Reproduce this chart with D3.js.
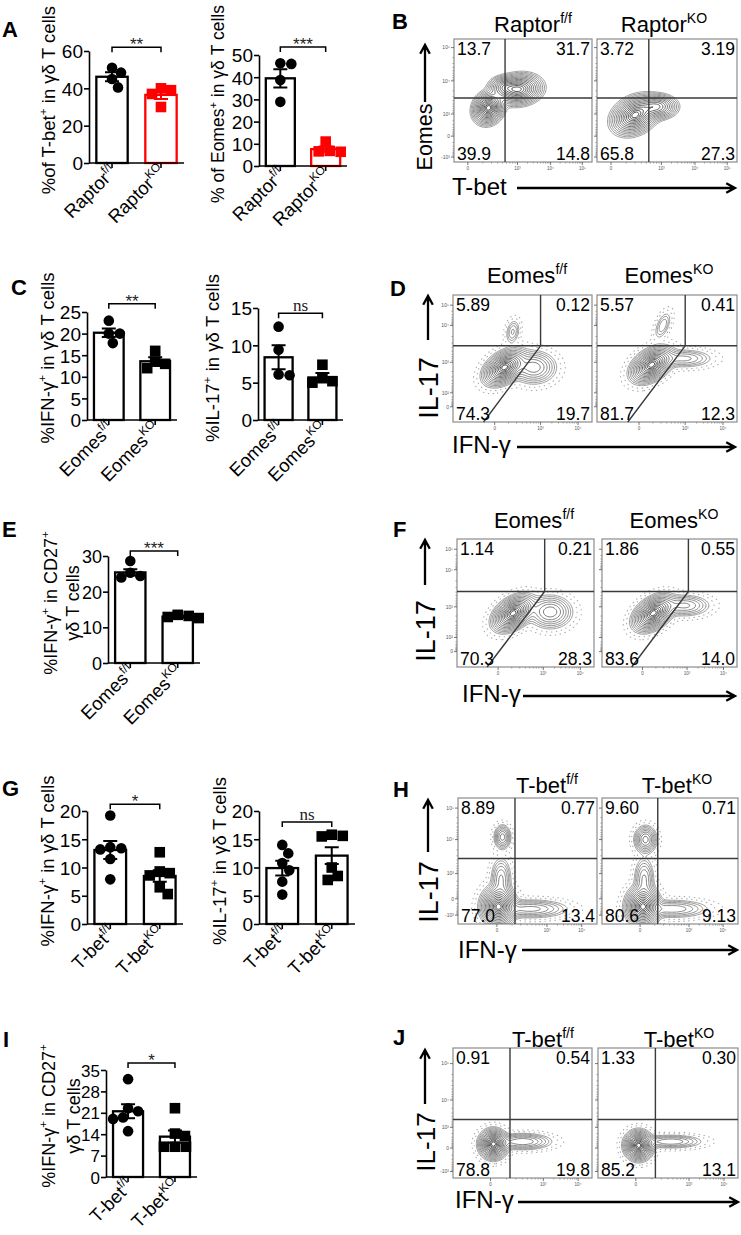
<!DOCTYPE html>
<html lang="en">
<head>
<meta charset="UTF-8">
<title>Raptor / Eomes / T-bet in γδ T cells</title>
<script src="https://d3js.org/d3.v7.min.js"></script>
<style>
  body { margin: 0; background: #fff; }
  svg { display: block; font-family: "Liberation Sans", Arial, sans-serif; }
</style>
</head>
<body>
<svg id="fig" width="741" height="1235"></svg>
<script>
// ---- categories (text after ^ is superscript) ----
const raptorCats = ["Raptor^f/f", "Raptor^KO"];
const eomesCats = ["Eomes^f/f", "Eomes^KO"];
const tbetCats = ["T-bet^f/f", "T-bet^KO"];

// ---- bar chart values: mean, SEM, individual mice ----
const tbetMean = [46.2, 36.5], tbetSem = [2.4, 2.2];
const tbetPts = [[51, 48.4, 45, 40.5], [40, 39, 37, 30]];
const eomesMean = [39.5, 7.6], eomesSem = [4.1, 1.2];
const eomesPts = [[46, 46.3, 38.7, 28.9], [11, 6.6, 6.4, 6.8]];

const eIfngMean = [20.2, 13.6], eIfngSem = [1.0, 0.9];
const eIfngPts = [[23, 20, 20, 17.8], [16, 13.5, 13, 12]];
const eIl17Mean = [8.4, 5.7], eIl17Sem = [1.6, 0.6];
const eIl17Pts = [[12.5, 9.4, 6.1, 6.0], [7.4, 5.6, 5.2, 5.0]];

const eCd27Mean = [25.4, 13.0], eCd27Sem = [0.9, 0.3];
const eCd27Pts = [[28.6, 25.3, 24.4, 24], [13.5, 13.2, 12.9, 12.6]];

const tIfngMean = [13.1, 8.5], tIfngSem = [1.6, 1.0];
const tIfngPts = [[19.2, 13.6, 13.4, 13.2, 11.5, 7.9], [12.7, 9.3, 9.0, 8.6, 6.5, 5.3]];
const tIl17Mean = [9.9, 12.1], tIl17Sem = [1.3, 1.5];
const tIl17Pts = [[14, 12.5, 10.8, 9.5, 7.5, 5.2], [15.6, 15.5, 15.8, 10, 8.5, 7.8]];

const tCd27Mean = [21.5, 13.2], tCd27Sem = [2.3, 2.0];
const tCd27Pts = [[32, 22.5, 21.5, 19.5, 19, 15], [22.5, 13.4, 14.2, 9.9, 9.9, 9.9]];

// ---- flow plots: quadrant percentages [top-left, top-right, bottom-left, bottom-right] ----
const bNums = [["13.7", "31.7", "39.9", "14.8"], ["3.72", "3.19", "65.8", "27.3"]];
const dNums = [["5.89", "0.12", "74.3", "19.7"], ["5.57", "0.41", "81.7", "12.3"]];
const fNums = [["1.14", "0.21", "70.3", "28.3"], ["1.86", "0.55", "83.6", "14.0"]];
const hNums = [["8.89", "0.77", "77.0", "13.4"], ["9.60", "0.71", "80.6", "9.13"]];
const jNums = [["0.91", "0.54", "78.8", "19.8"], ["1.33", "0.30", "85.2", "13.1"]];

// cell populations in channel units 0-100: [x, y, spread along axis, spread across, axis angle, weight]
const bBlobs = [
  [[25, 44, 6, 4.8, 70, 1.0], [47, 59, 7.5, 5.5, 10, 0.9], [36, 61, 5, 4, 0, 0.4]],
  [[27, 38, 8, 6, 40, 1.0], [43, 45, 6.5, 4.5, 0, 0.6]]
];
const dBlobs = [
  [[37, 43, 7.5, 4.8, 40, 1.0], [58, 43, 7.5, 6, 0, 0.3], [43, 71, 5, 2.5, 80, 0.1]],
  [[39, 45, 7.5, 4.8, 40, 1.0], [62, 50, 10, 3.5, 0, 0.15], [47, 76, 6, 2.5, 70, 0.09]]
];
const fBlobs = [
  [[41, 42, 7.5, 4.8, 40, 1.0], [68, 43, 7.5, 6, 0, 0.3]],
  [[38, 42, 7.5, 4.8, 40, 1.0], [61, 48, 9, 4, 0, 0.2]]
];
const hBlobs = [
  [[29, 14, 7, 5.5, 90, 1.0], [31, 36, 8, 3.5, 90, 0.2], [52, 12, 13, 3.5, 0, 0.22], [32, 69, 4.5, 2.8, 90, 0.3]],
  [[30, 14, 7, 5.5, 90, 1.0], [31, 36, 8, 3.5, 90, 0.2], [52, 12, 13, 3.5, 0, 0.18], [32, 67, 5, 3.8, 90, 0.38]]
];
const jBlobs = [
  [[29, 26, 5, 4.5, 90, 1.0], [50, 28, 10, 3, 0, 0.25]],
  [[29, 25, 5, 4.5, 90, 1.0], [52, 28, 11, 2.5, 0, 0.18]]
];

// axis decoration labels of the cytometer plots
const bTicksY = [["10⁵", .07], ["10⁴", .34], ["10³", .61], ["0", .79], ["-10³", .96]];
const bTicksX = [["0", .10], ["10³", .46], ["10⁴", .70], ["10⁵", .93]];
const dTicksY = [["10⁵", .08], ["10⁴", .24], ["10³", .53], ["10²", .77], ["0", .88]];
const dTicksX = [["0", .30], ["10³", .63], ["10⁴", .90]];
const hTicksY = [["10⁵", .08], ["10⁴", .33], ["10³", .60], ["0", .80], ["-10³", .93]];
const hTicksX = [["0", .28], ["10³", .64], ["10⁴", .89]];
const jTicksY = [["10⁵", .12], ["10⁴", .40], ["10³", .61], ["0", .77], ["-10³", .95]];
const jTicksX = [["0", .27], ["10³", .65], ["10⁴", .90]];

// contour rings evenly spaced in radius (in units of spread)
const levels = d3.range(2.7, 0.3, -0.17).map(r => Math.exp(-0.5 * r * r));

const svg = d3.select("#fig");

// text with ^superscript^ parts
function rich(t, str, fs) {
  let shift = 0;
  str.split("^").forEach((p, i) => {
    const sup = i % 2 === 1;
    const target = sup ? -fs * 0.42 : 0;
    if (!p) return;
    t.append("tspan").attr("dy", target - shift).attr("font-size", sup ? fs * 0.64 : fs).text(p);
    shift = target;
  });
  return t;
}

function arrow(x1, y1, x2, y2) {
  const a = Math.atan2(y2 - y1, x2 - x1), L = 10, s = 0.5;
  svg.append("path")
    .attr("d", `M${x1},${y1}L${x2},${y2}M${x2 - L * Math.cos(a - s)},${y2 - L * Math.sin(a - s)}L${x2},${y2}L${x2 - L * Math.cos(a + s)},${y2 - L * Math.sin(a + s)}`)
    .attr("fill", "none").attr("stroke", "#000").attr("stroke-width", 2.3);
}

function letter(ch, x, y) {
  svg.append("text").attr("x", x).attr("y", y).attr("font-size", 22).attr("font-weight", "bold").text(ch);
}

// simple beeswarm so dots of one group do not sit on top of each other
function swarm(vals, y, r) {
  const order = d3.range(vals.length).sort((a, b) => vals[b] - vals[a]);
  const placed = [], off = [];
  order.forEach(i => {
    const yy = y(vals[i]);
    for (let k = 0; k < 80; k++) {
      const dx = (k % 2 ? 1 : -1) * Math.ceil(k / 2);
      if (placed.every(p => Math.hypot(p[0] - dx, p[1] - yy) >= 2 * r * 0.95)) {
        off[i] = dx; placed.push([dx, yy]); break;
      }
    }
  });
  return off;
}

function barChart(c) {
  const g = svg.append("g");
  const x = d3.scaleBand().domain(c.cats).range([c.x0, c.x1]).paddingInner(0.36).paddingOuter(0.15);
  const y = d3.scaleLinear().domain([0, c.max]).range([c.y0, c.y1]);
  const bw = x.bandwidth();
  const r = 5.3;

  g.selectAll("rect.bar").data(c.cats).join("rect")
    .attr("x", d => x(d)).attr("y", (d, i) => y(c.mean[i]))
    .attr("width", bw).attr("height", (d, i) => y(0) - y(c.mean[i]))
    .attr("fill", "#fff").attr("stroke", (d, i) => c.colors[i]).attr("stroke-width", 2.3);

  c.cats.forEach((cat, i) => {
    const cx = x(cat) + bw / 2;
    const off = swarm(c.pts[i], y, r);
    c.pts[i].forEach((v, j) => {
      if (i === 0) {
        g.append("circle").attr("cx", cx + off[j]).attr("cy", y(v)).attr("r", r).attr("fill", c.colors[i]);
      } else {
        g.append("rect").attr("x", cx + off[j] - r).attr("y", y(v) - r)
          .attr("width", 2 * r).attr("height", 2 * r).attr("fill", c.colors[i]);
      }
    });
    const lo = y(c.mean[i] - c.sem[i]), hi = y(c.mean[i] + c.sem[i]);
    g.append("path")
      .attr("d", `M${cx},${lo}V${hi}M${cx - 7},${hi}H${cx + 7}M${cx - 7},${lo}H${cx + 7}`)
      .attr("stroke", c.colors[i]).attr("stroke-width", 2).attr("fill", "none");
  });

  const ax = g.append("g").attr("transform", `translate(${c.x0},0)`)
    .call(d3.axisLeft(y).tickValues(c.ticks).tickSize(5).tickPadding(1).tickSizeOuter(0));
  ax.attr("font-size", c.fs).attr("font-family", null);
  ax.selectAll("path,line").attr("stroke-width", 1.6);
  ax.selectAll("text").attr("dy", "0.36em");

  g.append("line").attr("x1", c.x0).attr("x2", c.x1).attr("y1", c.y0).attr("y2", c.y0)
    .attr("stroke", "#000").attr("stroke-width", 1.6);
  c.cats.forEach(cat => {
    const cx = x(cat) + bw / 2;
    g.append("line").attr("x1", cx).attr("x2", cx).attr("y1", c.y0).attr("y2", c.y0 + 5)
      .attr("stroke", "#000").attr("stroke-width", 1.6);
    rich(g.append("text").attr("text-anchor", "end")
      .attr("transform", `translate(${cx + 6},${c.y0 + 10}) rotate(-45)`), cat, 18.5);
  });

  // significance bracket
  const bx1 = x(c.cats[0]) + bw / 2, bx2 = x(c.cats[1]) + bw / 2, by = y(c.br);
  g.append("path").attr("d", `M${bx1},${by + 5}V${by}H${bx2}V${by + 5}`)
    .attr("fill", "none").attr("stroke", "#000").attr("stroke-width", 1.5);
  const ns = c.sig === "ns";
  g.append("text").attr("x", (bx1 + bx2) / 2).attr("y", ns ? by - 2 : by + 3)
    .attr("text-anchor", "middle").attr("font-size", 17)
    .attr("font-family", ns ? "'Liberation Serif', serif" : null).attr("fill", "#222").text(c.sig);

  c.ylab.forEach((line, k) => {
    rich(g.append("text").attr("text-anchor", "middle")
      .attr("transform", `translate(${c.labX[k]},${c.labY}) rotate(-90)`), line, c.lfs);
  });
}

const barCharts = [
  { cats: raptorCats, mean: tbetMean, sem: tbetSem, pts: tbetPts, colors: ["#000", "#ff0000"],
    x0: 89, x1: 184, y0: 163, y1: 51, max: 60, ticks: [0, 20, 40, 60], fs: 19, br: 62, sig: "**",
    ylab: ["%of T-bet^+^ in γδ T cells"], labX: [55], labY: 100, lfs: 18.5 },
  { cats: raptorCats, mean: eomesMean, sem: eomesSem, pts: eomesPts, colors: ["#000", "#ff0000"],
    x0: 259, x1: 347, y0: 166, y1: 55, max: 50, ticks: [0, 10, 20, 30, 40, 50], fs: 19, br: 53.6, sig: "***",
    ylab: ["% of Eomes^+^ in γδ T cells"], labX: [224], labY: 104, lfs: 17.5 },
  { cats: eomesCats, mean: eIfngMean, sem: eIfngSem, pts: eIfngPts, colors: ["#000", "#000"],
    x0: 87, x1: 177, y0: 420, y1: 312, max: 25, ticks: [0, 5, 10, 15, 20, 25], fs: 19, br: 26.9, sig: "**",
    ylab: ["%IFN-γ^+^ in γδ T cells"], labX: [54], labY: 358, lfs: 18.5 },
  { cats: eomesCats, mean: eIl17Mean, sem: eIl17Sem, pts: eIl17Pts, colors: ["#000", "#000"],
    x0: 258, x1: 343, y0: 420, y1: 308, max: 15, ticks: [0, 5, 10, 15], fs: 19, br: 14.3, sig: "ns",
    ylab: ["%IL-17^+^ in γδ T cells"], labX: [219], labY: 358, lfs: 18.5 },
  { cats: eomesCats, mean: eCd27Mean, sem: eCd27Sem, pts: eCd27Pts, colors: ["#000", "#000"],
    x0: 108, x1: 200, y0: 663, y1: 556, max: 30, ticks: [0, 10, 20, 30], fs: 18, br: 31.4, sig: "***",
    ylab: ["%IFN-γ^+^ in CD27^+^", "γδ T cells"], labX: [57, 79], labY: 603, lfs: 18 },
  { cats: tbetCats, mean: tIfngMean, sem: tIfngSem, pts: tIfngPts, colors: ["#000", "#000"],
    x0: 87, x1: 183, y0: 924, y1: 811, max: 20, ticks: [0, 5, 10, 15, 20], fs: 19, br: 21.2, sig: "*",
    ylab: ["%IFN-γ^+^ in γδ T cells"], labX: [54], labY: 861, lfs: 18.5 },
  { cats: tbetCats, mean: tIl17Mean, sem: tIl17Sem, pts: tIl17Pts, colors: ["#000", "#000"],
    x0: 259, x1: 355, y0: 924, y1: 811, max: 20, ticks: [0, 5, 10, 15, 20], fs: 19, br: 18.05, sig: "ns",
    ylab: ["%IL-17^+^ in γδ T cells"], labX: [226], labY: 861, lfs: 18.5 },
  { cats: tbetCats, mean: tCd27Mean, sem: tCd27Sem, pts: tCd27Pts, colors: ["#000", "#000"],
    x0: 106, x1: 197, y0: 1177, y1: 1070, max: 35, ticks: [0, 7, 14, 21, 28, 35], fs: 17, br: 37.3, sig: "*",
    ylab: ["%IFN-γ^+^ in CD27^+^", "γδ T cells"], labX: [55, 80], labY: 1116, lfs: 18 }
];
barCharts.forEach(barChart);

// ---- flow cytometry panels ----
const shade = d3.interpolateRgb("#7c7c7c", "#101010");

function flowPlot(p, k) {
  const [xl, xr] = p.cols[k], top = p.top, bot = p.bottom;
  const sx = d3.scaleLinear([0, 100], [xl, xr]);
  const sy = d3.scaleLinear([0, 100], [bot, top]);
  const g = svg.append("g");
  const id = `clip${p.letter}${k}`;
  svg.append("clipPath").attr("id", id).append("rect")
    .attr("x", xl).attr("y", top).attr("width", xr - xl).attr("height", bot - top);

  const step = 1.25;
  const nx = Math.ceil((xr - xl) / step), ny = Math.ceil((bot - top) / step);
  const vals = new Array(nx * ny);
  const blobs = p.blobs[k];
  for (let j = 0; j < ny; j++) {
    for (let i = 0; i < nx; i++) {
      const ux = sx.invert(xl + (i + 0.5) * step), uy = sy.invert(top + (j + 0.5) * step);
      let s = 0;
      for (const [cx, cy, s1, s2, ang, w] of blobs) {
        const a = ang * Math.PI / 180, dx = ux - cx, dy = uy - cy;
        const u = dx * Math.cos(a) + dy * Math.sin(a), v = -dx * Math.sin(a) + dy * Math.cos(a);
        s += w * Math.exp(-0.5 * (u * u / (s1 * s1) + v * v / (s2 * s2)));
      }
      vals[j * nx + i] = s;
    }
  }
  const mx = d3.max(vals);
  const path = d3.geoPath(d3.geoTransform({
    point(px, py) { this.stream.point(xl + px * step, top + py * step); }
  }));
  const cg = g.append("g").attr("clip-path", `url(#${id})`);
  if (p.speckle) {
    cg.selectAll("path.sp").data(d3.contours().size([nx, ny]).thresholds([0.003 * mx, 0.01 * mx])(vals))
      .join("path").attr("d", path).attr("fill", "none").attr("stroke", "#a8a8a8")
      .attr("stroke-width", 1.1).attr("stroke-dasharray", "0.5,4.5").attr("stroke-linecap", "round");
  }
  const cs = d3.contours().size([nx, ny]).thresholds(levels.map(l => l * mx))(vals);
  cg.selectAll("path.c").data(cs).join("path").attr("d", path).attr("fill", "none")
    .attr("stroke", (d, i) => shade(i / (cs.length - 1))).attr("stroke-width", 0.75);

  g.append("rect").attr("x", xl).attr("y", top).attr("width", xr - xl).attr("height", bot - top)
    .attr("fill", "none").attr("stroke", "#8c8c8c").attr("stroke-width", 1.2);

  // gates
  const gt = p.gate;
  let d;
  if (gt.dx === undefined) {
    d = `M${sx(gt.vx)},${top}V${bot}M${xl},${sy(gt.hy)}H${xr}`;
  } else {
    d = `M${sx(gt.vx)},${top}V${sy(gt.hy)}L${sx(gt.dx)},${bot}M${xl},${sy(gt.hy)}H${xr}`;
  }
  g.append("path").attr("d", d).attr("fill", "none").attr("stroke", "#3a3a3a").attr("stroke-width", 1.4);

  // quadrant numbers
  const n = p.nums[k], fs = 17.5;
  const put = (t, x, y, anchor) => g.append("text").attr("x", x).attr("y", y)
    .attr("text-anchor", anchor).attr("font-size", fs).text(t);
  put(n[0], xl + 3, top + 16, "start");
  put(n[1], xr - 2, top + 16, "end");
  put(n[2], xl + 3, bot - 2, "start");
  put(n[3], xr - 2, bot - 2, "end");

  // tiny cytometer ticks (labels only on the left plot of each pair)
  const w = xr - xl, h = bot - top;
  const minor = (list, fn) => {
    for (let m = 0; m < list.length - 1; m++) {
      const fa = list[m][1], fb = list[m + 1][1];
      for (let q = 2; q <= 9; q++) fn(fa + (fb - fa) * Math.log10(q));
    }
  };
  p.ticksY.forEach(([t, f]) => {
    const yy = top + f * h;
    g.append("line").attr("x1", xl - 3).attr("x2", xl).attr("y1", yy).attr("y2", yy).attr("stroke", "#555").attr("stroke-width", 0.8);
    if (k === 0) {
      g.append("text").attr("x", xl - 4).attr("y", yy + 1.8).attr("text-anchor", "end")
        .attr("font-size", 5).attr("fill", "#555").text(t);
    }
  });
  minor(p.ticksY, f => g.append("line").attr("x1", xl - 1.6).attr("x2", xl)
    .attr("y1", top + f * h).attr("y2", top + f * h).attr("stroke", "#777").attr("stroke-width", 0.6));
  p.ticksX.forEach(([t, f]) => {
    const xx = xl + f * w;
    g.append("line").attr("x1", xx).attr("x2", xx).attr("y1", bot).attr("y2", bot + 3).attr("stroke", "#555").attr("stroke-width", 0.8);
    g.append("text").attr("x", xx).attr("y", bot + 7.5).attr("text-anchor", "middle")
      .attr("font-size", 4.5).attr("fill", "#555").text(t);
  });
  minor(p.ticksX, f => g.append("line").attr("x1", xl + f * w).attr("x2", xl + f * w)
    .attr("y1", bot).attr("y2", bot + 1.6).attr("stroke", "#777").attr("stroke-width", 0.6));

  rich(svg.append("text").attr("x", p.titleX[k]).attr("y", p.titleY).attr("text-anchor", "middle"),
    p.titles[k], 22);
}

const flowPanels = [
  { letter: "B", lx: 392, ly: 29, titles: raptorCats, titleX: [533, 664], titleY: 32,
    top: 39, bottom: 162, cols: [[454, 592], [597, 737]], gate: { vx: 37, hy: 52 },
    nums: bNums, blobs: bBlobs, ticksY: bTicksY, ticksX: bTicksX, speckle: false,
    ylab: "Eomes", yfs: 21.5, ylabX: 432, ylabY: 137, yArrow: [425, 102, 45],
    xlab: "T-bet", xlabX: 452, xlabY: 195, xArrow: [517, 735, 188] },
  { letter: "D", lx: 390, ly: 296, titles: eomesCats, titleX: [527, 669], titleY: 283,
    top: 295, bottom: 422, cols: [[453, 592], [597, 737]], gate: { vx: 63, hy: 60, dx: 22 },
    nums: dNums, blobs: dBlobs, ticksY: dTicksY, ticksX: dTicksX, speckle: true,
    ylab: "IL-17", yfs: 27, ylabX: 438, ylabY: 388, yArrow: [428, 340, 296],
    xlab: "IFN-γ", xlabX: 452, xlabY: 453, xArrow: [517, 735, 447] },
  { letter: "F", lx: 393, ly: 537, titles: eomesCats, titleX: [534, 674], titleY: 528,
    top: 539, bottom: 667, cols: [[457, 594], [602, 737]], gate: { vx: 64, hy: 59, dx: 22 },
    nums: fNums, blobs: fBlobs, ticksY: dTicksY, ticksX: dTicksX, speckle: true,
    ylab: "IL-17", yfs: 27, ylabX: 435, ylabY: 631, yArrow: [425, 585, 540],
    xlab: "IFN-γ", xlabX: 462, xlabY: 702, xArrow: [523, 735, 696] },
  { letter: "H", lx: 393, ly: 797, titles: tbetCats, titleX: [547, 677], titleY: 793,
    top: 798, bottom: 924, cols: [[458, 597], [602, 738]], gate: { vx: 41, hy: 52 },
    nums: hNums, blobs: hBlobs, ticksY: hTicksY, ticksX: hTicksX, speckle: true,
    ylab: "IL-17", yfs: 27, ylabX: 438, ylabY: 892, yArrow: [428, 852, 800],
    xlab: "IFN-γ", xlabX: 458, xlabY: 958, xArrow: [522, 737, 950] },
  { letter: "J", lx: 393, ly: 1045, titles: tbetCats, titleX: [543, 679], titleY: 1047,
    top: 1048, bottom: 1178, cols: [[453, 592], [598, 738]], gate: { vx: 41, hy: 45 },
    nums: jNums, blobs: jBlobs, ticksY: jTicksY, ticksX: jTicksX, speckle: true,
    ylab: "IL-17", yfs: 26, ylabX: 435, ylabY: 1142, yArrow: [425, 1104, 1050],
    xlab: "IFN-γ", xlabX: 455, xlabY: 1208, xArrow: [518, 738, 1202] }
];

flowPanels.forEach(p => {
  flowPlot(p, 0);
  flowPlot(p, 1);
  svg.append("text").attr("text-anchor", "middle").attr("font-size", p.yfs)
    .attr("transform", `translate(${p.ylabX},${p.ylabY}) rotate(-90)`).text(p.ylab);
  arrow(p.yArrow[0], p.yArrow[1], p.yArrow[0], p.yArrow[2]);
  svg.append("text").attr("x", p.xlabX).attr("y", p.xlabY).attr("font-size", 24).text(p.xlab);
  arrow(p.xArrow[0], p.xArrow[2], p.xArrow[1], p.xArrow[2]);
  letter(p.letter, p.lx, p.ly);
});

letter("A", 2, 37);
letter("C", 11, 295);
letter("E", 2, 537);
letter("G", 2, 796);
letter("I", 3, 1047);
</script>
</body>
</html>
